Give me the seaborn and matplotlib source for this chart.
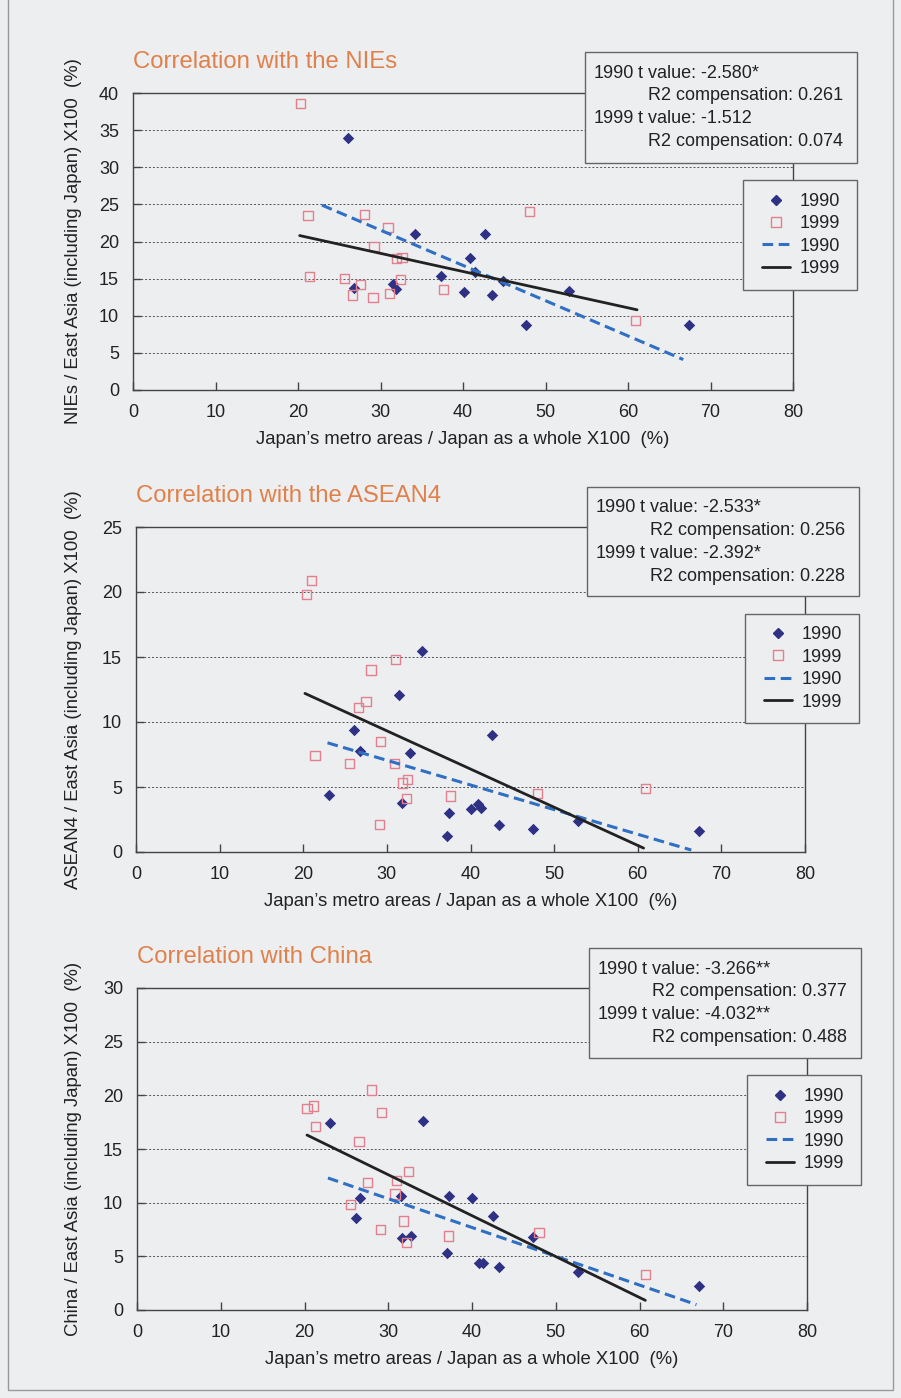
import matplotlib.pyplot as plt
from matplotlib.lines import Line2D
from matplotlib.patches import Rectangle
import seaborn as sns

# ---- values ----
# Correlation with the NIEs
nies_x90 = [26.0, 34.2, 26.8, 31.5, 31.9, 37.3, 42.7, 40.9, 41.4, 44.8, 40.1, 43.5, 52.9, 47.6, 67.4]
nies_y90 = [33.9, 21.0, 13.7, 14.3, 13.6, 15.3, 21.0, 17.8, 15.9, 14.7, 13.2, 12.8, 13.3, 8.75, 8.8]
nies_x99 = [20.3, 21.2, 28.1, 30.9, 29.2, 31.9, 32.6, 21.4, 25.6, 27.6, 32.4, 26.6, 29.1, 31.1, 37.6, 48.1, 60.9]
nies_y99 = [38.6, 23.5, 23.6, 21.9, 19.3, 17.7, 17.8, 15.3, 15.0, 14.2, 14.9, 12.8, 12.5, 13.0, 13.5, 24.0, 9.4]
nies_fit_x90 = [22.9, 66.7]
nies_fit_y90 = [24.9, 4.1]
nies_fit_x99 = [20.2, 61.1]
nies_fit_y99 = [20.8, 10.8]

# Correlation with the ASEAN4
asean_x90 = [34.2, 31.5, 26.1, 26.8, 32.8, 23.1, 31.8, 37.4, 37.2, 42.6, 40.0, 40.9, 41.3, 43.4, 47.5, 52.9, 67.3]
asean_y90 = [15.5, 12.1, 9.4, 7.8, 7.6, 4.4, 3.8, 3.0, 1.2, 9.0, 3.3, 3.7, 3.4, 2.05, 1.8, 2.4, 1.6]
asean_x99 = [21.0, 20.4, 31.0, 28.1, 27.5, 26.6, 29.2, 21.4, 25.5, 30.9, 32.5, 31.9, 32.3, 29.1, 37.6, 48.0, 60.9]
asean_y99 = [20.9, 19.8, 14.8, 14.0, 11.6, 11.1, 8.5, 7.4, 6.8, 6.8, 5.6, 5.3, 4.1, 2.1, 4.3, 4.5, 4.9]
asean_fit_x90 = [22.9, 66.4]
asean_fit_y90 = [8.4, 0.15]
asean_fit_x99 = [20.2, 60.7]
asean_fit_y99 = [12.2, 0.3]

# Correlation with China
china_x90 = [23.0, 34.1, 26.6, 31.5, 26.1, 31.7, 32.7, 37.2, 37.0, 40.0, 42.5, 47.3, 40.8, 41.3, 43.2, 52.6, 67.1]
china_y90 = [17.4, 17.6, 10.4, 10.6, 8.6, 6.7, 6.9, 10.6, 5.3, 10.4, 8.8, 6.8, 4.4, 4.4, 4.0, 3.5, 2.2]
china_x99 = [28.0, 20.3, 21.1, 29.2, 21.3, 26.5, 32.4, 27.5, 31.0, 30.8, 25.5, 31.8, 29.1, 32.2, 37.2, 48.0, 60.7]
china_y99 = [20.5, 18.8, 19.0, 18.4, 17.1, 15.7, 12.9, 11.9, 12.1, 10.8, 9.8, 8.3, 7.5, 6.3, 6.9, 7.2, 3.3]
china_fit_x90 = [22.8, 66.8]
china_fit_y90 = [12.3, 0.5]
china_fit_x99 = [20.3, 60.7]
china_fit_y99 = [16.3, 0.9]

titles = ["Correlation with the NIEs", "Correlation with the ASEAN4", "Correlation with China"]
ylabels = ["NIEs / East Asia (including Japan) X100  (%)",
           "ASEAN4 / East Asia (including Japan) X100  (%)",
           "China / East Asia (including Japan) X100  (%)"]
xlabel = "Japan\u2019s metro areas / Japan as a whole X100  (%)"
t_1990 = ["-2.580*", "-2.533*", "-3.266**"]
r2_1990 = ["0.261", "0.256", "0.377"]
t_1999 = ["-1.512", "-2.392*", "-4.032**"]
r2_1999 = ["0.074", "0.228", "0.488"]
ymax = [40, 25, 30]

# ---- style ----
sns.set_theme(style="ticks")
plt.rcParams['font.family'] = ['Liberation Sans', 'DejaVu Sans']

bg = '#edeef0'
navy = '#2e3184'
pink = '#e47f90'
blue = '#2f6fc4'
orange = '#e0804a'
ink = '#222222'
edge = '#666666'
fs = 13

W, H = 901, 1398
fig = plt.figure(figsize=(W / 100, H / 100), dpi=100, facecolor=bg)


def fx(px):
    return px / W


def fy(py):
    return 1 - py / H


def box(l, t, r, b, z=5):
    fig.add_artist(Rectangle((fx(l), fy(b)), (r - l) / W, (b - t) / H,
                             transform=fig.transFigure, facecolor=bg, edgecolor=edge,
                             lw=1, zorder=z))


# page frame of the scan
fig.add_artist(Rectangle((fx(8), fy(1390)), fx(893) - fx(8), (1390 + 10) / H,
                         transform=fig.transFigure, fill=False, edgecolor='#999', lw=1))

# axes boxes in pixels (left, top, right, bottom), then boxes for stats and legend
ax_px = [(133, 93, 793, 390), (136, 527, 805, 852), (137, 988, 807, 1310)]
stat_px = [(585, 52, 857, 163), (587, 487, 859, 596), (589, 948, 861, 1058)]
leg_px = [(743, 180, 857, 290), (745, 614, 859, 723), (747, 1075, 861, 1185)]

data = [
    (nies_x90, nies_y90, nies_x99, nies_y99, nies_fit_x90, nies_fit_y90, nies_fit_x99, nies_fit_y99),
    (asean_x90, asean_y90, asean_x99, asean_y99, asean_fit_x90, asean_fit_y90, asean_fit_x99, asean_fit_y99),
    (china_x90, china_y90, china_x99, china_y99, china_fit_x90, china_fit_y90, china_fit_x99, china_fit_y99),
]

for i, (x90, y90, x99, y99, fx90, fy90, fx99, fy99) in enumerate(data):
    l, t, r, b = ax_px[i]
    ax = fig.add_axes([fx(l), fy(b), (r - l) / W, (b - t) / H])
    ax.set_facecolor(bg)

    sns.scatterplot(x=x90, y=y90, ax=ax, marker='D', color=navy, s=34, linewidth=0, zorder=3)
    sns.scatterplot(x=x99, y=y99, ax=ax, marker='s', facecolor='none', edgecolor=pink,
                    s=44, linewidth=1, zorder=3)
    sns.lineplot(x=fx90, y=fy90, ax=ax, color=blue, linewidth=2.2, linestyle=(0, (3.5, 1.8)), zorder=4)
    sns.lineplot(x=fx99, y=fy99, ax=ax, color=ink, linewidth=2.0, zorder=4)

    ax.set_xlim(0, 80)
    ax.set_ylim(0, ymax[i])
    ax.set_xticks(range(0, 81, 10))
    ax.set_yticks(range(0, ymax[i] + 1, 5))
    ax.yaxis.grid(True, linestyle=(0, (2, 2)), color='#555', lw=0.7)
    ax.set_axisbelow(True)
    for sp in ax.spines.values():
        sp.set_color('#444')
        sp.set_linewidth(1)
    ax.tick_params(direction='in', length=6, width=1, color='#444', labelsize=fs,
                   pad=10, labelcolor=ink)

    ax.set_xlabel(xlabel, fontsize=13.3, color=ink)
    ax.xaxis.set_label_coords(0.5, -(431 - 390) / (b - t))
    ax.set_ylabel(ylabels[i], fontsize=13.3, color=ink)
    ax.yaxis.set_label_coords(-(l - 82) / (r - l), 0.5)

    fig.text(fx(l), fy(t - 31), titles[i], fontsize=17.2, color=orange, va='center', ha='left')

    # stats box
    sl, st, sr, sb = stat_px[i]
    box(sl, st, sr, sb)
    rows = [("1990", "t value: " + t_1990[i]), ("", "R2 compensation: " + r2_1990[i]),
            ("1999", "t value: " + t_1999[i]), ("", "R2 compensation: " + r2_1999[i])]
    for k, (yr, txt) in enumerate(rows):
        yy = st + 21 + k * 22.7
        if yr:
            fig.text(fx(sl + 9), fy(yy), yr, fontsize=fs, color=ink, va='center', zorder=6)
            fig.text(fx(sl + 53), fy(yy), txt, fontsize=fs, color=ink, va='center', zorder=6)
        else:
            fig.text(fx(sl + 63), fy(yy), txt, fontsize=fs, color=ink, va='center', zorder=6)

    # legend: drawn box plus frameless figure legend centred inside it
    ll, lt, lr, lb = leg_px[i]
    box(ll, lt, lr, lb)
    handles = [
        Line2D([], [], marker='D', color=navy, linestyle='none', markersize=5),
        Line2D([], [], marker='s', color=pink, markerfacecolor='none', linestyle='none',
               markersize=6.5, markeredgewidth=1),
        Line2D([], [], color=blue, lw=2.2, linestyle=(0, (3.5, 1.8))),
        Line2D([], [], color=ink, lw=2.0),
    ]
    leg = fig.legend(handles, ["1990", "1999", "1990", "1999"], loc='center',
                     bbox_to_anchor=(fx((ll + lr) / 2 + 1), fy((lt + lb) / 2)),
                     bbox_transform=fig.transFigure, frameon=False, fontsize=fs,
                     handlelength=1.55, handletextpad=0.55, labelspacing=0.3,
                     borderpad=0, borderaxespad=0)
    leg.set_zorder(7)
    for txt in leg.get_texts():
        txt.set_color(ink)

fig.savefig("out.png", dpi=100, facecolor=bg)
